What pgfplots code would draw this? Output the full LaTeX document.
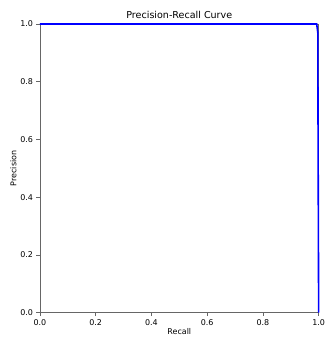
\documentclass[border=0pt]{standalone}
\usepackage{pgfplots}
\pgfplotsset{compat=1.18}
\usepackage{fontspec}
\setmainfont{DejaVu Sans}
\begin{document}
\begin{tikzpicture}
\begin{axis}[
  at={(0,0)}, anchor=south west,
  scale only axis,
  width=279bp, height=289bp,
  xmin=0, xmax=1, ymin=0, ymax=1,
  xtick={0,0.2,0.4,0.6,0.8,1.0},
  ytick={0,0.2,0.4,0.6,0.8,1.0},
  xticklabel style={/pgf/number format/.cd,fixed,fixed zerofill,precision=1},
  yticklabel style={/pgf/number format/.cd,fixed,fixed zerofill,precision=1},
  /pgf/number format/assume math mode=true,
  tick label style={font=\fontsize{8}{9.6}\selectfont},
  label style={font=\fontsize{8}{9.6}\selectfont},
  title style={font=\fontsize{9.6}{11.5}\selectfont, yshift=-4.5bp},
  title={Precision-Recall Curve},
  xlabel={Recall}, ylabel={Precision},
  xlabel style={yshift=4bp},
  ylabel style={yshift=-3bp},
  tick align=outside,
  major tick length=3.5bp,
  axis line style={black!60, line width=0.8bp},
  tick style={black!60, line width=0.8bp},
  xtick pos=bottom, ytick pos=left,
  clip=false,
]
\addplot[color=blue, line width=1.6bp] coordinates {
(0,1) (0.25,1) (0.5,1) (0.75,1) (0.993,1) (0.997,0.97) (0.998,0.6) (1.0,0.0)
};
\end{axis}
\path (-40bp,-25bp) rectangle (287bp,313bp);
\end{tikzpicture}
\end{document}
